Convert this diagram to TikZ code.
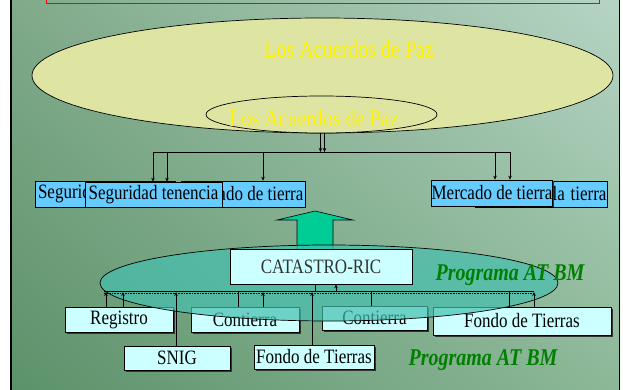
\documentclass[tikz,border=0pt]{standalone}
\usepackage{fontspec}
\setmainfont{Liberation Serif}
\usetikzlibrary{shapes.geometric,arrows.meta,shadows,shadings}
\newcommand\vstretch[1]{\scalebox{1}[1.2]{#1}}
\definecolor{bgUL}{RGB}{128,170,138}
\definecolor{bgUR}{RGB}{182,212,196}
\definecolor{bgLL}{RGB}{92,146,106}
\definecolor{bgLR}{RGB}{140,184,152}
\definecolor{ellfill}{RGB}{222,228,162}
\definecolor{tealfill}{RGB}{70,192,175}
\definecolor{boxblue}{RGB}{102,204,255}
\definecolor{boxcyan}{RGB}{204,255,255}
\definecolor{arrowgreen}{RGB}{0,204,150}
\definecolor{progreen}{RGB}{0,128,0}
\begin{document}
\begin{tikzpicture}[x=1pt,y=-1pt,
  bigell/.style={ellipse, draw, line width=0.7pt, fill=ellfill, inner sep=0pt},
  ytext/.style={text=yellow, font=\fontsize{20}{22}\selectfont, inner sep=0pt},
  boxone/.style={draw, line width=0.6pt, fill=boxblue, inner sep=0pt, font=\fontsize{17}{19}\selectfont},
  boxtwo/.style={draw, line width=0.6pt, fill=boxcyan, inner sep=0pt, font=\fontsize{17}{19}\selectfont,
    drop shadow={shadow xshift=1.5pt, shadow yshift=-1.5pt, fill=black!80, opacity=1}},
  shd/.style={drop shadow={shadow xshift=1.2pt, shadow yshift=-1.2pt, fill=black!80, opacity=1}},
  arr/.style={-{Stealth[length=4pt,width=3.5pt]}, line width=0.6pt},
  ln/.style={line width=0.6pt},
  prog/.style={text=progreen, font=\fontsize{20}{22}\selectfont\bfseries\itshape, inner sep=0pt}]
\useasboundingbox (0,0) rectangle (623,390);
\fill[white] (0,0) rectangle (623,390);
\shade[upper left=bgUL, upper right=bgUR, lower left=bgLL, lower right=bgLR] (12,0) rectangle (620,390);
\draw[line width=2pt] (11,-2) -- (11,392);
\draw[line width=1.5pt] (619.5,-2) -- (619.5,392);
\draw[red, line width=1pt] (46,-6) rectangle (599,4);

% top ellipses
\node[bigell, minimum width=581, minimum height=115] (bigE) at (322.5,75.5) {};
\node[ytext] (bigT) at (349,49) {\vstretch{Los Acuerdos de Paz}};
\node[bigell, minimum width=231, minimum height=37] (smE) at (321.5,114.5) {};
\node[ytext] (smT) at (314,118) {\vstretch{Los Acuerdos de Paz}};

% top row boxes
\node[boxone, minimum width=140, minimum height=26, text width=134, align=left] (segA) at (105,194) {\vstretch{Seguridad tenencia}};
\node[boxone, minimum width=124, minimum height=26] (merC) at (243,194) {\vstretch{Mercado de tierra}};
\node[boxone, minimum width=132, minimum height=26, text width=131, align=right] (tieE) at (541,194) {\vstretch{la tierra}};
\node[boxone, shd, minimum width=137, minimum height=25] (segB) at (153.5,194.5) {\vstretch{Seguridad tenencia}};
\node[boxone, shd, minimum width=120, minimum height=26] (merD) at (492,193) {\vstretch{Mercado de tierra}};

% top connectors
\coordinate (b1) at (153,152);
\coordinate (b2) at (167,152);
\coordinate (b3) at (263,152);
\coordinate (b4) at (495,152);
\coordinate (b5) at (510,152);
\coordinate (e1) at (320.5,133);
\coordinate (e2) at (324.5,133);
\draw[ln] (b1) -- (b5);
\draw[arr] (e1) -- (e1 |- b1);
\draw[arr] (e2) -- (e2 |- b1);
\draw[arr] (b1) -- (b1 |- segB.north);
\draw[arr] (b2) -- (b2 |- segB.north);
\draw[arr] (b3) -- (b3 |- merC.north);
\draw[arr] (b4) -- (b4 |- merD.north);
\draw[arr] (b5) -- (b5 |- merD.north);

% big green arrow
\draw[fill=arrowgreen, line width=0.6pt] (315,211) -- (353,220) -- (333,220) -- (333,252) -- (297,252) -- (297,220) -- (277,220) -- cycle;

% second row boxes
\node[boxtwo, minimum width=108, minimum height=25] (reg) at (119,319.5) {\vstretch{Registro}};
\node[boxtwo, minimum width=108, minimum height=25] (con1) at (245,319.5) {\vstretch{Contierra}};
\node[boxtwo, minimum width=105, minimum height=24] (con2) at (374.5,318) {\vstretch{Contierra}};
\node[boxtwo, minimum width=178, minimum height=28] (fonR) at (522,321) {\vstretch{Fondo de Tierras}};
\node[boxtwo, minimum width=106, minimum height=24] (snig) at (177,358) {\vstretch{SNIG}};
\node[boxtwo, minimum width=120, minimum height=24] (fonL) at (314,357) {\vstretch{Fondo de Tierras}};

% bottom ellipse
\node[ellipse, draw, line width=0.7pt, fill=tealfill, fill opacity=0.7, inner sep=0pt, minimum width=458, minimum height=76] (botE) at (329,283) {};

% CATASTRO box
\node[draw, line width=0.6pt, fill=boxcyan, inner sep=0pt, minimum width=182, minimum height=35,
  text=black!80, font=\fontsize{17}{19}\selectfont] (cat) at (321,266.5) {\vstretch{CATASTRO-RIC}};

% bottom connectors
\coordinate (c1) at (104,292);
\coordinate (c2) at (534,292);
\draw[line width=0.5pt] ([yshift=1pt]c1) -- ([yshift=1pt]c2);
\draw[line width=0.6pt, densely dotted] ([yshift=-1pt]c1) -- ([yshift=-1pt]c2);
\coordinate (d1) at (106,292);
\coordinate (d2) at (123,292);
\coordinate (d3) at (176,292);
\coordinate (d4) at (238,292);
\coordinate (d5) at (263,292);
\coordinate (d6) at (312,292);
\coordinate (d7) at (315,292);
\coordinate (d8) at (336,292);
\coordinate (d9) at (371,292);
\coordinate (d10) at (509,292);
\coordinate (d11) at (534,292);
\draw[arr] (d1 |- reg.north) -- (d1);
\draw[arr] (d2 |- reg.north) -- (d2);
\draw[arr] (d3 |- snig.north) -- (d3);
\draw[ln] (d4 |- con1.north) -- (d4);
\draw[arr] (d5 |- con1.north) -- (d5);
\draw[arr] (d6 |- fonL.north) -- (d6);
\draw[ln] (d7 |- cat.south) -- (d7);
\draw[arr] (d8) -- (d8 |- cat.south);
\draw[ln] (d9 |- con2.north) -- (d9);
\draw[ln] (d10 |- fonR.north) -- (d10);
\draw[arr] (d11 |- fonR.north) -- (d11);

% labels
\node[prog] (prog1) at (510,275) {\vstretch{Programa AT BM}};
\node[prog] (prog2) at (483,360) {\vstretch{Programa AT BM}};
\end{tikzpicture}
\end{document}
